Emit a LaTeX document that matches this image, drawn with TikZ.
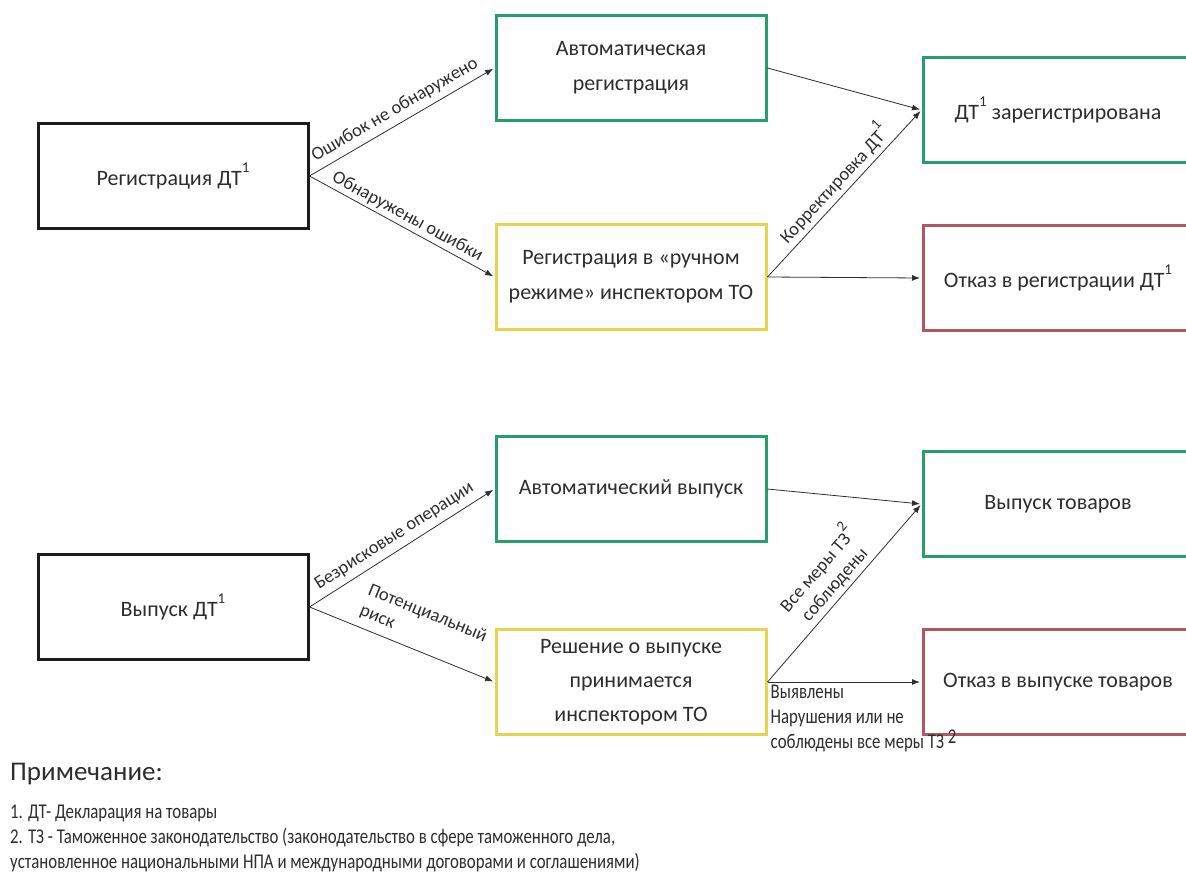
\documentclass[tikz,border=0pt]{standalone}
\usepackage{fontspec}
\setmainfont{Carlito}
\newfontfamily\narrowfont[FakeStretch=0.8]{Carlito}
\usetikzlibrary{arrows.meta}
\definecolor{boxgreen}{RGB}{40,158,112}
\definecolor{boxyellow}{RGB}{232,212,76}
\definecolor{boxred}{RGB}{180,86,98}
\definecolor{boxblack}{RGB}{28,28,28}
\definecolor{txt}{RGB}{45,45,45}
% raised footnote number
\newcommand{\fnum}[1]{\raisebox{1.3ex}{\fontsize{15}{15}\selectfont #1}}

\begin{document}
\begin{tikzpicture}[
    x=1pt, y=-1pt,
    box/.style={draw=#1, line width=3pt, minimum width=270pt, minimum height=105pt,
                align=center, text=txt, font=\fontsize{22}{35}\selectfont},
    flow/.style={-{Latex[length=8pt,width=6pt]}, line width=0.8pt, draw=txt, shorten >=1.5pt},
    lbl/.style={sloped, above, inner sep=6pt, align=center, text=txt, font=\fontsize{18.5}{22}\selectfont},
    note/.style={anchor=west, inner sep=0pt, text=txt, font=\narrowfont\fontsize{21}{24}\selectfont}
]
\useasboundingbox (0,0) rectangle (1186,881);

% registration of the declaration
\node[box=boxblack] (reg) at (173,176) {Регистрация ДТ\fnum{1}};
\node[box=boxgreen] (autoreg) at (631,68) {Автоматическая\\регистрация};
\node[box=boxyellow] (manreg) at (631,277) {Регистрация в «ручном\\режиме» инспектором ТО};
\node[box=boxgreen] (regok) at (1058,110) {ДТ\fnum{1} зарегистрирована};
\node[box=boxred] (regno) at (1058,278) {Отказ в регистрации ДТ\fnum{1}};

\draw[flow] (reg.east) -- node[lbl] {Ошибок не обнаружено} (autoreg.west);
\draw[flow] (reg.east) -- node[lbl, inner sep=3pt] {Обнаружены ошибки} (manreg.west);
\draw[flow] (autoreg.east) -- (regok.west);
\draw[flow] (manreg.east) -- node[lbl, inner sep=4pt] {Корректировка ДТ\fnum{1}} (regok.west);
\draw[flow] (manreg.east) -- (regno.west);

% release of the goods
\node[box=boxblack] (rel) at (173,607) {Выпуск ДТ\fnum{1}};
\node[box=boxgreen] (autorel) at (631,489) {Автоматический выпуск};
\node[box=boxyellow, font=\fontsize{22}{34}\selectfont] (manrel) at (631,682) {Решение о выпуске\\принимается\\инспектором ТО};
\node[box=boxgreen] (relok) at (1058,504) {Выпуск товаров};
\node[box=boxred] (relno) at (1058,682) {Отказ в выпуске товаров};

\draw[flow] (rel.east) -- node[lbl] {Безрисковые операции} (autorel.west);
\draw[flow] (rel.east) -- node[lbl, align=left, pos=0.56, inner sep=8pt] {Потенциальный\\риск} (manrel.west);
\draw[flow] (autorel.east) -- (relok.west);
\draw[flow] (manrel.east) -- node[lbl, inner sep=4pt] {Все меры ТЗ\fnum{2}\\соблюдены} (relok.west);
\draw[flow] (manrel.east) -- (relno.west);
\node[anchor=north west, align=left, inner sep=3pt, text=txt,
      font=\narrowfont\fontsize{21}{25}\selectfont] (viol) at (manrel.east)
      {Выявлены\\Нарушения или не\\соблюдены все меры ТЗ \raisebox{0.5ex}{2}};

% notes
\node[note, font=\fontsize{27}{30}\selectfont] (nhead) at (10,774) {Примечание:};
\node[note] (n1) at (10,813) {1. ДТ- Декларация на товары};
\node[note] (n2) at (10,838) {2. ТЗ - Таможенное законодательство (законодательство в сфере таможенного дела,};
\node[note] (n3) at (10,863) {установленное национальными НПА и международными договорами и соглашениями)};
\end{tikzpicture}
\end{document}
